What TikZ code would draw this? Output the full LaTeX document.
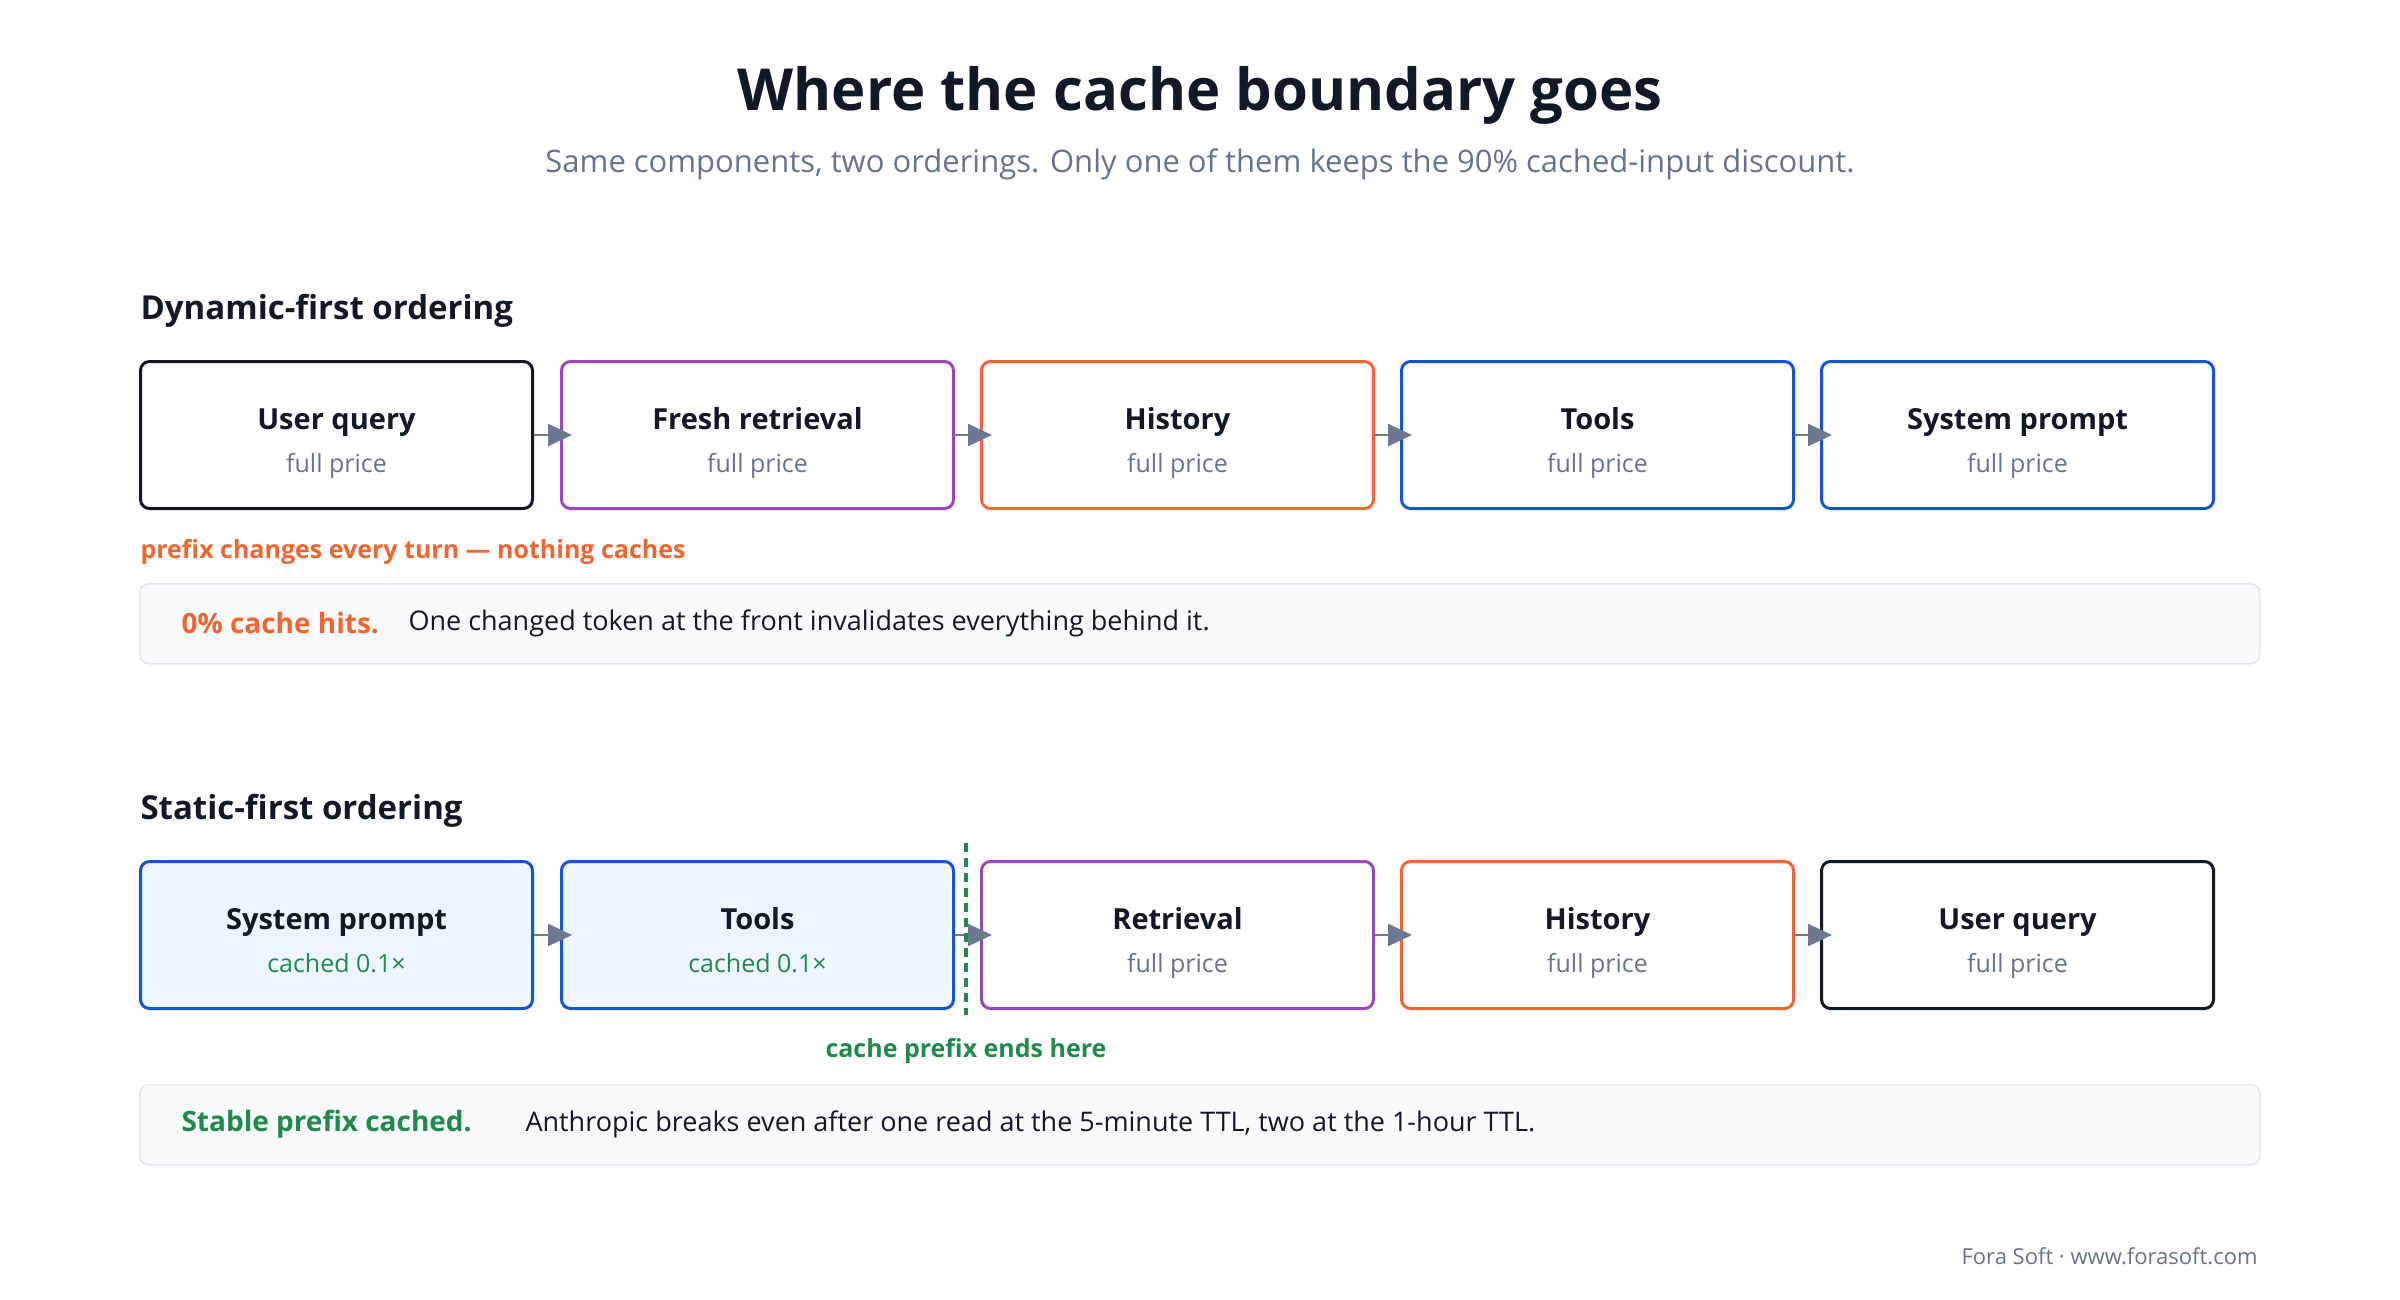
\documentclass[tikz,border=0pt]{standalone}
\usepackage{fontspec}
\setmainfont{Open Sans}
\usetikzlibrary{arrows.meta}
\definecolor{ink}{HTML}{111827}
\definecolor{sub}{HTML}{64748B}
\definecolor{pur}{HTML}{9B45C0}
\definecolor{ora}{HTML}{F26430}
\definecolor{blu}{HTML}{1554D6}
\definecolor{grn}{HTML}{1F8A4C}
\definecolor{cach}{HTML}{EEF5FF}
\definecolor{arr}{HTML}{6B7A90}
\definecolor{bfill}{HTML}{F8FAFC}
\definecolor{bline}{HTML}{E2E8F0}
\begin{document}
\begin{tikzpicture}[x=1pt,y=-1pt,
 box/.style={draw,line width=3pt,rounded corners=9pt,minimum width=392pt,minimum height=147pt,anchor=north west,fill=white},
 bt/.style={anchor=base,font=\fontsize{29}{34}\selectfont\bfseries,text=ink},
 bs/.style={anchor=base,font=\fontsize{25}{30}\selectfont,text=sub},
 conn/.style={draw=arr,line width=2.5pt,-{Triangle[length=24pt,width=22pt]},shorten >=-12pt},
 head/.style={anchor=west,font=\fontsize{33}{38}\selectfont\bfseries,text=ink},
 banner/.style={draw=bline,line width=1.5pt,fill=bfill,rounded corners=9pt,minimum width=2120pt,minimum height=80pt,anchor=north west}]
\useasboundingbox (0,0) rectangle (2400,1300);
\node[font=\fontsize{58}{66}\selectfont\bfseries,text=ink] (title) at (1200,95) {Where the cache boundary goes};
\node[font=\fontsize{31}{36}\selectfont,text=sub] (subt) at (1200,164) {Same components, two orderings. Only one of them keeps the 90\% cached-input discount.};
% row 1
\node[head] (h1) at (137,311) {Dynamic-first ordering};
\node[box,draw=ink] (a1) at (139,360) {};
\node[box,draw=pur] (a2) at (560,360) {};
\node[box,draw=ora] (a3) at (980,360) {};
\node[box,draw=blu] (a4) at (1400,360) {};
\node[box,draw=blu] (a5) at (1820,360) {};
\foreach \n/\t in {a1/User query,a2/Fresh retrieval,a3/History,a4/Tools,a5/System prompt}{
 \node[bt] at ([yshift=6pt]\n.center) {\t};
 \node[bs] at ([yshift=-37pt]\n.center) {full price};}
\foreach \p/\q in {a1/a2,a2/a3,a3/a4,a4/a5}{\draw[conn] (\p.east) -- (\q.west);}
\node[anchor=west,font=\fontsize{25}{30}\selectfont\bfseries,text=ora] (l1) at (137,552) {prefix changes every turn — nothing caches};
\node[banner] (b1) at (139,583) {};
\node[anchor=west,font=\fontsize{28}{34}\selectfont\bfseries,text=ora] (b1a) at (178,623) {0\% cache hits.};
\node[anchor=west,font=\fontsize{27}{32}\selectfont,text=ink] (b1b) at (405,623) {One changed token at the front invalidates everything behind it.};
% row 2
\node[head] (h2) at (137,811) {Static-first ordering};
\node[box,draw=blu,fill=cach] (c1) at (139,860) {};
\node[box,draw=blu,fill=cach] (c2) at (560,860) {};
\node[box,draw=pur] (c3) at (980,860) {};
\node[box,draw=ora] (c4) at (1400,860) {};
\node[box,draw=ink] (c5) at (1820,860) {};
\foreach \n/\t in {c1/System prompt,c2/Tools}{
 \node[bt] at ([yshift=6pt]\n.center) {\t};
 \node[bs,text=grn] at ([yshift=-37pt]\n.center) {cached 0.1×};}
\foreach \n/\t in {c3/Retrieval,c4/History,c5/User query}{
 \node[bt] at ([yshift=6pt]\n.center) {\t};
 \node[bs] at ([yshift=-37pt]\n.center) {full price};}
\foreach \p/\q in {c1/c2,c2/c3,c3/c4,c4/c5}{\draw[conn] (\p.east) -- (\q.west);}
\coordinate (d1) at (966,843);
\coordinate (d2) at (966,1015);
\draw[grn,line width=3.5pt,dash pattern=on 9pt off 6pt] (d1) -- (d2);
\node[font=\fontsize{25}{30}\selectfont\bfseries,text=grn] (l2) at (966,1051) {cache prefix ends here};
\node[banner] (b2) at (139,1084) {};
\node[anchor=west,font=\fontsize{28}{34}\selectfont\bfseries,text=grn] (b2a) at (178,1124) {Stable prefix cached.};
\node[anchor=west,font=\fontsize{27}{32}\selectfont,text=ink] (b2b) at (522,1124) {Anthropic breaks even after one read at the 5-minute TTL, two at the 1-hour TTL.};
\node[anchor=east,font=\fontsize{22}{26}\selectfont,text=sub] (foot) at (2261,1256) {Fora Soft · www.forasoft.com};
\end{tikzpicture}
\end{document}
